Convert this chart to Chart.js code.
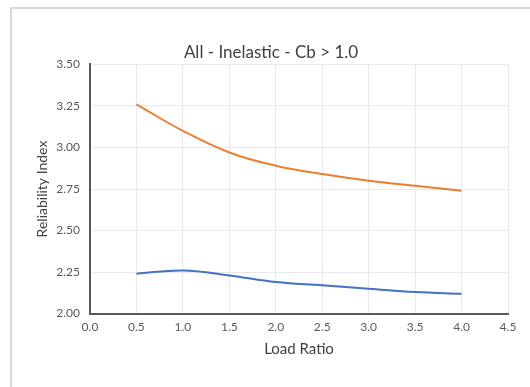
<!DOCTYPE html>
<html>
<head>
<meta charset="utf-8">
<script src="https://cdn.jsdelivr.net/npm/chart.js"></script>
<style>
  html, body { margin: 0; padding: 0; background: #fff; overflow: hidden; }
  #frame { position: absolute; left: 10px; top: 7px; width: 600px; height: 500px; border: 2px solid #d9d9d9; }
  #c { position: absolute; left: 0; top: 0; }
</style>
</head>
<body>
<div id="frame"></div>
<canvas id="c" width="530" height="387"></canvas>
<script>
var loadRatio = [0.5, 1.0, 1.5, 2.0, 2.5, 3.0, 3.5, 4.0];
var upperSeries = [3.26, 3.10, 2.97, 2.89, 2.84, 2.80, 2.77, 2.74];
var lowerSeries = [2.24, 2.26, 2.23, 2.19, 2.17, 2.15, 2.13, 2.12];

function pts(xs, ys) {
  return xs.map(function (x, i) { return { x: x, y: ys[i] }; });
}

var font = "Lato, 'Open Sans', sans-serif";

new Chart(document.getElementById("c"), {
  type: 'line',
  data: {
    datasets: [{
        label: "Series 1",
        data: pts(loadRatio, upperSeries),
        borderColor: "#ED7D31",
        borderWidth: 2,
        pointRadius: 0,
        tension: 0.4,
        fill: false
      }, {
        label: "Series 2",
        data: pts(loadRatio, lowerSeries),
        borderColor: "#4472C4",
        borderWidth: 2,
        pointRadius: 0,
        tension: 0.4,
        fill: false
      }
    ]
  },
  options: {
    responsive: false,
    animation: false,
    layout: { padding: { left: 34, right: 22, top: 42, bottom: 29 } },
    plugins: {
      legend: { display: false },
      tooltip: { enabled: false },
      title: {
        display: true,
        text: 'All - Inelastic - Cb > 1.0',
        color: '#404040',
        font: { family: font, size: 17, weight: 'normal' },
        padding: { top: 0, bottom: 2 }
      }
    },
    scales: {
      x: {
        type: 'linear',
        min: 0,
        max: 4.5,
        ticks: {
          stepSize: 0.5,
          color: '#595959',
          font: { family: font, size: 12 },
          padding: 6,
          maxRotation: 0,
          callback: function (v) { return v.toFixed(1); }
        },
        grid: { color: '#e9e9e9', drawTicks: false },
        border: { color: '#595959', width: 2 },
        title: {
          display: true,
          text: 'Load Ratio',
          color: '#404040',
          font: { family: font, size: 15 },
          padding: { top: 0, bottom: 0 }
        }
      },
      y: {
        min: 2.0,
        max: 3.5,
        afterFit: function (s) { s.width = 56; },
        ticks: {
          stepSize: 0.25,
          color: '#595959',
          font: { family: font, size: 12 },
          padding: 10,
          callback: function (v) { return v.toFixed(2); }
        },
        grid: { color: '#e9e9e9', drawTicks: false },
        border: { color: '#595959', width: 2 },
        title: {
          display: true,
          text: 'Reliability Index',
          color: '#404040',
          font: { family: font, size: 14 },
          padding: { top: 0, bottom: 0 }
        }
      }
    }
  }
});
</script>
</body>
</html>
